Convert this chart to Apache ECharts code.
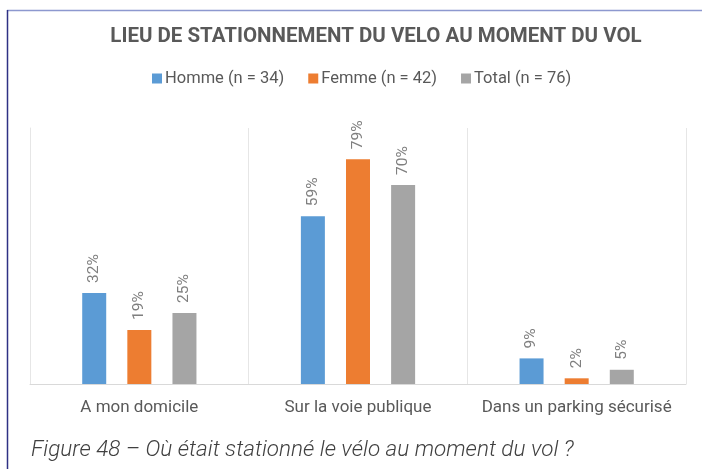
<!DOCTYPE html>
<html>
<head>
<meta charset="utf-8">
<script src="https://cdn.jsdelivr.net/npm/echarts@6/dist/echarts.min.js"></script>
<style>
  html, body { margin: 0; padding: 0; background: #ffffff; }
  #chart { width: 702px; height: 469px; }
</style>
</head>
<body>
<div id="chart"></div>
<script>
// Lieu de stationnement du vélo au moment du vol (en %)
const categories = ['A mon domicile', 'Sur la voie publique', 'Dans un parking sécurisé'];
const seriesNames = ['Homme (n = 34)', 'Femme (n = 42)', 'Total (n = 76)'];
const homme = [32, 59, 9];
const femme = [19, 79, 2];
const total = [25, 70, 5];
const colors = ['#5b9bd5', '#ed7d31', '#a5a5a5'];

const values = [homme, femme, total];

const chart = echarts.init(document.getElementById('chart'), null, { renderer: 'canvas' });

const textColor = '#595959';

chart.setOption({
  backgroundColor: '#ffffff',
  animation: false,
  title: [
    {
      text: 'LIEU DE STATIONNEMENT DU VELO AU MOMENT DU VOL',
      left: 371, top: 21, textAlign: 'center',
      textStyle: { fontFamily: 'Roboto', fontSize: 20.5, fontWeight: 'bold', color: textColor }
    },
    {
      text: 'Figure 48 – Où était stationné le vélo au moment du vol ?',
      left: 26, top: 434,
      textStyle: { fontFamily: 'Roboto', fontSize: 22.5, fontStyle: 'italic', fontWeight: 300, color: '#404040' }
    }
  ],
  legend: {
    data: seriesNames,
    left: 147, top: 65,
    icon: 'rect', itemWidth: 10, itemHeight: 10, itemGap: 24,
    textStyle: { fontFamily: 'Roboto', fontSize: 16.5, color: textColor, padding: [0, 0, 0, -2] }
  },
  grid: { left: 30, right: 16, top: 128, bottom: 85 },
  xAxis: {
    type: 'category',
    data: categories,
    axisLine: { show: true, lineStyle: { color: '#d9d9d9', width: 1 } },
    axisTick: { show: false },
    splitLine: { show: true, interval: 0, lineStyle: { color: '#e6e6e6', width: 1 } },
    axisLabel: { interval: 0, fontFamily: 'Roboto', fontSize: 17, color: textColor, margin: 15 }
  },
  yAxis: {
    type: 'value', min: 0, max: 90,
    show: true,
    axisLine: { show: true, lineStyle: { color: '#e6e6e6' } },
    axisLabel: { show: false },
    axisTick: { show: false },
    splitLine: { show: false }
  },
  series: seriesNames.map((name, i) => ({
    name: name,
    type: 'bar',
    data: values[i],
    barWidth: 24,
    barGap: '88%',
    itemStyle: { color: colors[i] },
    label: {
      show: true,
      position: 'top',
      rotate: 90,
      align: 'left',
      verticalAlign: 'middle',
      distance: 10,
      formatter: '{c}%',
      fontFamily: 'Roboto',
      fontSize: 15.5,
      color: '#7f7f7f'
    }
  })),
  graphic: [
    { type: 'line', shape: { x1: 7, y1: 10.5, x2: 702, y2: 10.5 }, style: { stroke: '#8d98cf', lineWidth: 1.5 }, z: 10 },
    { type: 'line', shape: { x1: 7.5, y1: 10, x2: 7.5, y2: 469 }, style: { stroke: '#2e3184', lineWidth: 1.5 }, z: 10 }
  ]
});
</script>
</body>
</html>
